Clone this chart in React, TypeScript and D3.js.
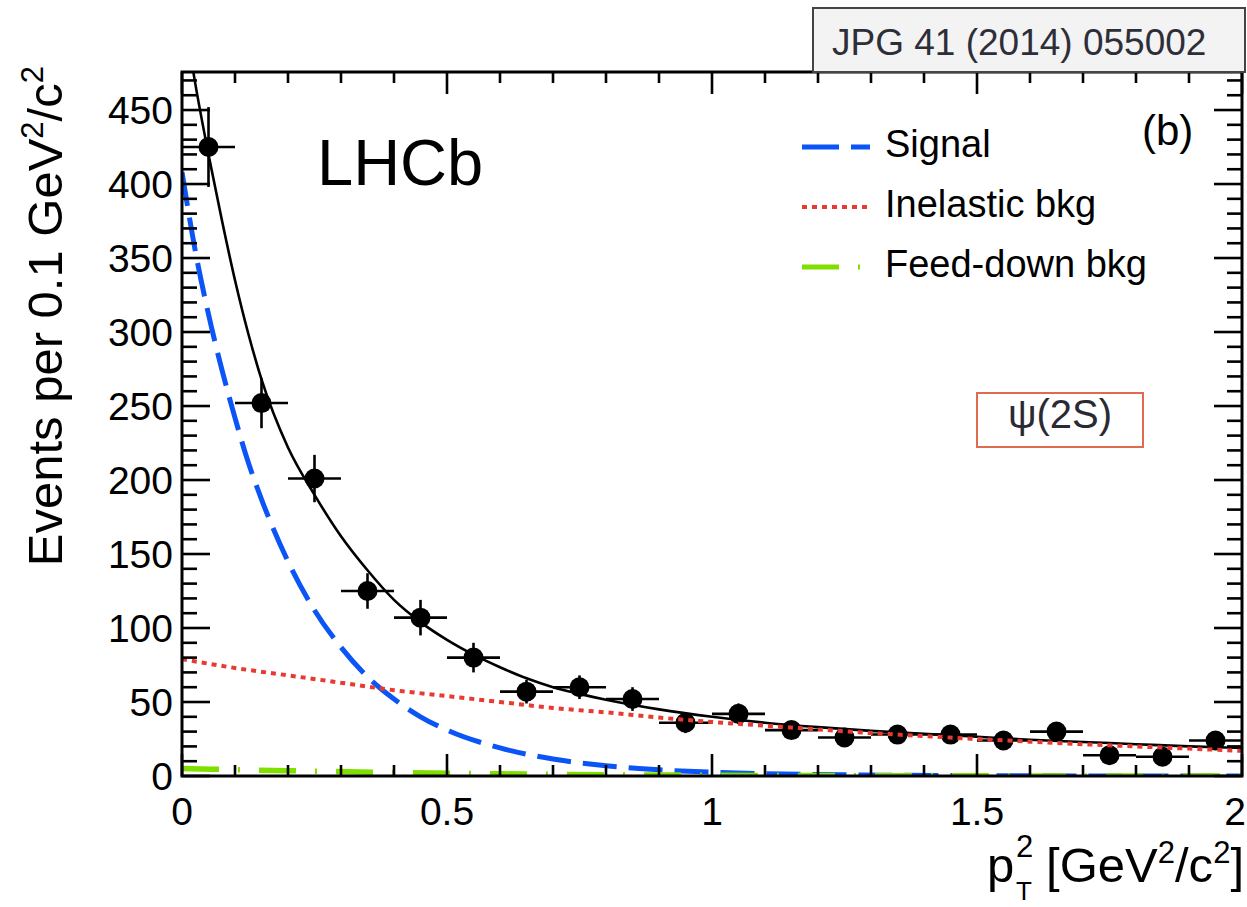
import React from "react";
import * as d3 from "d3";

// psi(2S) pT^2 distribution
const binCenters = [0.05, 0.15, 0.25, 0.35, 0.45, 0.55, 0.65, 0.75, 0.85, 0.95, 1.05, 1.15, 1.25, 1.35, 1.45, 1.55, 1.65, 1.75, 1.85, 1.95];
const counts = [425, 252, 201, 125, 107, 80, 57, 60, 52, 36, 42, 31, 26, 28, 28, 24, 30, 14, 13, 24];
const errors = [27, 17, 16, 12, 12, 10, 8, 8, 8, 7, 7, 6, 6, 6, 6, 5, 6, 5, 5, 6];
const binHalfWidth = 0.05;

// fit curves: [pT2, events]
const totalFit: [number, number][] = [
  [0, 525], [0.025, 468], [0.05, 420], [0.075, 376], [0.1, 335], [0.125, 299], [0.15, 268],
  [0.2, 222], [0.25, 190], [0.3, 162], [0.35, 139], [0.4, 119], [0.45, 104], [0.5, 92],
  [0.55, 82], [0.6, 73.5], [0.65, 66], [0.7, 60], [0.75, 55.5], [0.8, 51.5], [0.9, 45],
  [1.0, 40], [1.1, 36], [1.2, 33], [1.3, 30.5], [1.4, 28.5], [1.5, 26.5], [1.6, 24.5],
  [1.7, 23], [1.8, 21.5], [1.9, 20], [2.0, 19],
];
const signalFit: [number, number][] = [
  [0, 408], [0.025, 355], [0.05, 312], [0.075, 275], [0.1, 242], [0.125, 212], [0.15, 187],
  [0.2, 145], [0.25, 112], [0.3, 87], [0.35, 67], [0.4, 52], [0.45, 40], [0.5, 31],
  [0.6, 19], [0.7, 11.5], [0.8, 7], [0.9, 4.2], [1.0, 2.6], [1.1, 1.6], [1.2, 1],
  [1.3, 0.6], [1.5, 0.2], [1.75, 0.05], [2.0, 0],
];
const inelasticFit: [number, number][] = [
  [0, 79], [0.1, 73], [0.2, 68], [0.3, 63], [0.4, 58], [0.5, 54], [0.6, 50], [0.7, 46],
  [0.8, 43], [0.9, 39.5], [1.0, 36.5], [1.1, 34], [1.2, 31.5], [1.3, 29], [1.4, 27],
  [1.5, 25], [1.6, 23.2], [1.7, 21.5], [1.8, 20], [1.9, 18.5], [2.0, 17],
];
const feedDownFit: [number, number][] = [
  [0, 5], [0.2, 3.6], [0.4, 2.4], [0.6, 1.5], [0.8, 0.9], [1.0, 0.5], [1.2, 0.3], [1.5, 0.1], [2.0, 0],
];

const xTicks = [0, 0.5, 1, 1.5, 2];
const xTickLabels = ["0", "0.5", "1", "1.5", "2"];
const yTicks = [0, 50, 100, 150, 200, 250, 300, 350, 400, 450];

const legendItems = [
  { label: "Signal", color: "#0b55f6", dash: "37,12", width: 5 },
  { label: "Inelastic bkg", color: "#e83a30", dash: "5,5", width: 4 },
  { label: "Feed-down bkg", color: "#7fe000", dash: "37,19,2,19", width: 5 },
];

const FONT = "'Liberation Sans', Arial, Helvetica, sans-serif";

export default function App() {
  const W = 1247;
  const H = 907;
  const left = 182, right = 1242, top = 72, bottom = 776;

  const x = d3.scaleLinear().domain([0, 2]).range([left, right]);
  const y = d3.scaleLinear().domain([0, 475.7]).range([bottom, top]);

  const line = d3
    .line<[number, number]>()
    .x((d) => x(d[0]))
    .y((d) => y(d[1]))
    .curve(d3.curveMonotoneX);

  const xMinor = d3.range(0, 2.0001, 0.1);
  const yMinor = d3.range(0, 475, 10);

  return (
    <svg width={W} height={H} style={{ position: "absolute", left: 0, top: 0, background: "#fff" }} fontFamily={FONT}>
      <defs>
        <clipPath id="frame">
          <rect x={left} y={top} width={right - left} height={bottom - top} />
        </clipPath>
      </defs>
      <rect width={W} height={H} fill="#fff" />

      {/* data points */}
      <g stroke="#000" strokeWidth={2.6}>
        {binCenters.map((c, i) => (
          <g key={i}>
            <line x1={x(c - binHalfWidth)} x2={x(c + binHalfWidth)} y1={y(counts[i])} y2={y(counts[i])} />
            <line x1={x(c)} x2={x(c)} y1={y(counts[i] - errors[i])} y2={y(counts[i] + errors[i])} />
            <circle cx={x(c)} cy={y(counts[i])} r={10} fill="#000" stroke="none" />
          </g>
        ))}
      </g>

      {/* fit curves */}
      <g clipPath="url(#frame)" fill="none">
        <path d={line(totalFit) || ""} stroke="#000" strokeWidth={2.6} />
        <path d={line(signalFit) || ""} stroke="#0b55f6" strokeWidth={5} strokeDasharray="34,12" />
        <path d={line(inelasticFit) || ""} stroke="#e83a30" strokeWidth={4} strokeDasharray="5,5" />
        <path d={line(feedDownFit) || ""} stroke="#7fe000" strokeWidth={5.5} strokeDasharray="37,19,2,19" />
      </g>

      {/* frame and ticks */}
      <g stroke="#000">
        <rect x={left} y={top} width={right - left} height={bottom - top} fill="none" strokeWidth={3} />
        {yMinor.map((v) => {
          const major = v % 50 === 0;
          const len = major ? 28 : 15;
          return (
            <g key={"y" + v} strokeWidth={2.6}>
              <line x1={left} x2={left + len} y1={y(v)} y2={y(v)} />
              <line x1={right} x2={right - len} y1={y(v)} y2={y(v)} />
            </g>
          );
        })}
        {xMinor.map((v, i) => {
          const major = i % 5 === 0;
          const len = major ? 22 : 11;
          return (
            <g key={"x" + i} strokeWidth={2.6}>
              <line x1={x(v)} x2={x(v)} y1={bottom} y2={bottom - len} />
              <line x1={x(v)} x2={x(v)} y1={top} y2={top + len} />
            </g>
          );
        })}
      </g>

      {/* tick labels */}
      <g fontSize={39} fill="#000">
        {yTicks.map((v) => (
          <text key={v} x={173} y={y(v) + 14} textAnchor="end">{v}</text>
        ))}
        {xTicks.map((v, i) => (
          <text
            key={v}
            x={i === xTicks.length - 1 ? W - 1 : x(v)}
            y={825}
            textAnchor={i === xTicks.length - 1 ? "end" : "middle"}
          >
            {xTickLabels[i]}
          </text>
        ))}
      </g>

      {/* axis titles */}
      <text transform="translate(62,66) rotate(-90)" textAnchor="end" fontSize={49}>
        Events per 0.1 GeV<tspan dy={-19} fontSize={31}>2</tspan>
        <tspan dy={19}>/c</tspan>
        <tspan dy={-19} fontSize={31}>2</tspan>
      </text>
      <g fontSize={49}>
        <text x={987} y={882}>p</text>
        <text x={1016} y={857} fontSize={31}>2</text>
        <text x={1016} y={900} fontSize={26}>T</text>
        <text x={1244} y={882} textAnchor="end">
          [GeV<tspan dy={-19} fontSize={31}>2</tspan>
          <tspan dy={19}>/c</tspan>
          <tspan dy={-19} fontSize={31}>2</tspan>
          <tspan dy={19}>]</tspan>
        </text>
      </g>

      {/* labels */}
      <text x={317} y={185} fontSize={65}>LHCb</text>
      <text x={1142} y={145} fontSize={42}>(b)</text>

      {/* legend */}
      {legendItems.map((d, i) => (
        <g key={d.label}>
          <line x1={802} x2={870} y1={147 + i * 60} y2={147 + i * 60} stroke={d.color} strokeWidth={d.width} strokeDasharray={d.dash} />
          <text x={885} y={157 + i * 60} fontSize={38}>{d.label}</text>
        </g>
      ))}

      {/* annotation boxes */}
      <rect x={813} y={8} width={432} height={64} fill="#f3f3f3" stroke="#444" strokeWidth={2} />
      <text x={832} y={55} fontSize={37} fill="#2e2e38">JPG 41 (2014) 055002</text>

      <rect x={977} y={393} width={166} height={54} fill="#fff" stroke="#e06a4f" strokeWidth={2} />
      <text x={1060} y={428} fontSize={40} fill="#2a2a35" textAnchor="middle">ψ(2S)</text>
    </svg>
  );
}
